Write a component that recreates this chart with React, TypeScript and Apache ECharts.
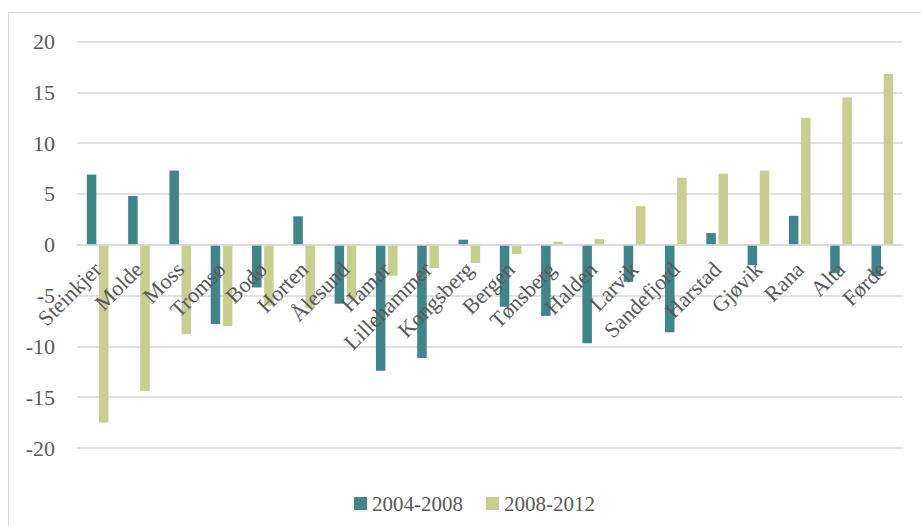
import React, { useEffect, useRef } from "react";
import * as echarts from "echarts";

const categories = [
  "Steinkjer", "Molde", "Moss", "Tromsø", "Bodø", "Horten", "Ålesund", "Hamar",
  "Lillehammer", "Kongsberg", "Bergen", "Tønsberg", "Halden", "Larvik",
  "Sandefjord", "Harstad", "Gjøvik", "Rana", "Alta", "Førde",
];
const series2004_2008 = [
  6.9, 4.8, 7.3, -7.8, -4.2, 2.8, -5.8, -12.4, -11.15, 0.5,
  -6.1, -7.0, -9.7, -3.65, -8.6, 1.15, -2.0, 2.85, -2.8, -3.1,
];
const series2008_2012 = [
  -17.5, -14.4, -8.8, -8.0, -6.0, -6.2, -5.4, -3.05, -2.3, -1.8,
  -0.9, 0.3, 0.55, 3.8, 6.6, 7.0, 7.3, 12.5, 14.5, 16.8,
];
const seriesNames = ["2004-2008", "2008-2012"];
const yMin = -20;
const yMax = 20;
const yStep = 5;

const FONT = "'Liberation Serif', 'Times New Roman', serif";
const TEXT = "#595959";

const GRID_TOP = 41.5;
const GRID_BOTTOM = 78;
const H = 526;

export default function App() {
  const ref = useRef<HTMLDivElement>(null);
  useEffect(() => {
    if (!ref.current) return;
    const chart = echarts.init(ref.current, null, { renderer: "svg" });
    const plotH = H - GRID_TOP - GRID_BOTTOM;
    const zeroFromBottom = plotH * ((0 - yMin) / (yMax - yMin));
    chart.setOption({
      animation: false,
      backgroundColor: "#ffffff",
      textStyle: { fontFamily: FONT },
      graphic: [
        {
          type: "rect",
          shape: { x: 8.5, y: 12.5, width: 1000, height: 1000 },
          style: { fill: "none", stroke: "#d9d9d9", lineWidth: 1 },
          silent: true,
          z: -10,
        },
      ],
      grid: {
        left: 77,
        right: 18,
        top: GRID_TOP,
        bottom: GRID_BOTTOM,
        containLabel: false,
        outerBoundsMode: "none",
      },
      legend: {
        left: 349,
        top: 488,
        itemWidth: 13,
        itemHeight: 13,
        itemGap: 23,
        icon: "rect",
        textStyle: { fontFamily: FONT, fontSize: 21, color: TEXT },
        data: seriesNames,
      },
      xAxis: {
        type: "category",
        data: categories,
        position: "bottom",
        offset: -zeroFromBottom,
        axisLine: { onZero: false, lineStyle: { color: "#d9d9d9", width: 1.5 } },
        axisTick: { show: false },
        axisLabel: {
          interval: 0,
          rotate: 45,
          margin: 21,
          fontFamily: FONT,
          fontSize: 22,
          color: TEXT,
          hideOverlap: false,
        },
        z: 5,
      },
      yAxis: {
        type: "value",
        min: yMin,
        max: yMax,
        interval: yStep,
        axisLine: { show: false },
        axisTick: { show: false },
        splitLine: { lineStyle: { color: "#d9d9d9", width: 1.5 } },
        axisLabel: { margin: 22, fontFamily: FONT, fontSize: 22, color: TEXT },
      },
      series: [
        {
          name: seriesNames[0],
          type: "bar",
          data: series2004_2008,
          barWidth: 9.5,
          barGap: "28%",
          itemStyle: { color: "#40858a" },
          z: 2,
        },
        {
          name: seriesNames[1],
          type: "bar",
          data: series2008_2012,
          barWidth: 9.5,
          itemStyle: { color: "#c8ce8f" },
          z: 2,
        },
      ],
    });
    return () => chart.dispose();
  }, []);
  return (
    <div
      ref={ref}
      style={{ position: "fixed", left: 0, top: 0, width: 921, height: 526 }}
    />
  );
}
